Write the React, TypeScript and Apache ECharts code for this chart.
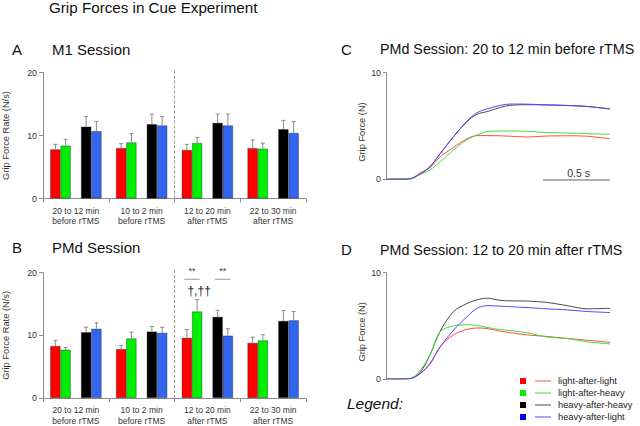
import React, { useEffect, useRef } from "react";
import * as echarts from "echarts";

const categories = [
  "20 to 12 min\nbefore rTMS",
  "10 to 2 min\nbefore rTMS",
  "12 to 20 min\nafter rTMS",
  "22 to 30 min\nafter rTMS",
];
const conditionNames = ["light-after-light", "light-after-heavy", "heavy-after-heavy", "heavy-after-light"];
const barColors = ["#ff0000", "#00ee00", "#000000", "#3366ee"];
const legendSquareColors = ["#ff0000", "#00ee00", "#000000", "#0000ee"];
const lineColors = ["#ff4a4a", "#3ade3a", "#4a4a4a", "#4a4aff"];
const slotOfCondition = [0, 1, 3, 4];

// Panel A (M1 session): grip force rate means and SEM
const m1Means = [
  [7.8, 8.0, 7.7, 8.0],
  [8.4, 8.9, 8.8, 7.9],
  [11.4, 11.8, 12.0, 11.0],
  [10.7, 11.6, 11.6, 10.4],
];
const m1Sem = [
  [0.8, 0.7, 0.9, 1.3],
  [1.0, 1.4, 0.9, 0.9],
  [1.6, 1.6, 1.4, 1.4],
  [1.55, 1.4, 1.8, 1.8],
];
// Panel B (PMd session)
const pmdMeans = [
  [8.3, 7.8, 9.6, 8.8],
  [7.7, 9.5, 13.8, 9.2],
  [10.5, 10.6, 12.95, 12.3],
  [11.05, 10.4, 9.95, 12.4],
];
const pmdSem = [
  [0.9, 0.6, 1.35, 0.9],
  [0.35, 1.0, 1.9, 0.9],
  [0.8, 0.8, 1.05, 1.65],
  [0.95, 0.9, 1.1, 1.4],
];
const rateTicks = { min: 0, max: 20, interval: 10 };
const rtmsStartIndex = 2;
// significance pairs: [category, slotA, slotB]
const sigPairs = [
  [2, 0, 1],
  [2, 3, 4],
];
const daggerMark = [[2, 1, 17.0]];

// Grip force traces (time in s, force in N)
const timeS = [0, 0.105, 0.18, 0.255, 0.33, 0.405, 0.505, 0.605, 0.68, 0.755, 0.855, 0.93, 1.055, 1.205, 1.355, 1.505, 1.675];
const cTraces = [
  [0, 0.05, 0.05, 0.6, 1.1, 2.1, 3.0, 3.8, 4.1, 4.1, 4.08, 4.04, 3.97, 4.06, 4.08, 4.04, 3.8],
  [0, 0, 0.02, 0.44, 0.9, 1.65, 2.75, 3.7, 4.15, 4.47, 4.53, 4.53, 4.5, 4.38, 4.34, 4.28, 4.22],
  [0, 0, 0.05, 0.5, 1.2, 2.4, 4.0, 5.4, 6.1, 6.35, 6.75, 6.94, 7.0, 6.97, 6.92, 6.84, 6.6],
  [0, 0, 0.05, 0.5, 1.2, 2.4, 4.0, 5.45, 6.25, 6.6, 6.94, 7.06, 7.05, 6.98, 6.93, 6.82, 6.6],
];
const dTraces = [
  [0, 0, 0.03, 0.5, 1.4, 3.05, 4.15, 4.67, 4.8, 4.75, 4.5, 4.35, 4.15, 4.0, 3.82, 3.65, 3.45],
  [0, 0, 0.03, 0.8, 2.3, 4.45, 5.0, 5.1, 5.05, 4.85, 4.65, 4.55, 4.35, 3.95, 3.8, 3.5, 3.3],
  [0, 0, 0.05, 0.6, 2.3, 4.5, 6.35, 7.1, 7.45, 7.6, 7.4, 7.35, 7.33, 7.2, 6.9, 6.6, 6.65],
  [0, 0, 0.03, 0.5, 1.5, 3.0, 4.6, 5.85, 6.65, 6.9, 6.85, 6.8, 6.72, 6.6, 6.5, 6.35, 6.25],
];
const forceTicks = { min: 0, max: 10, interval: 10 };
const scaleBar = [[1.175, 1.675, 0]];

const FONT = "'Liberation Sans', Arial, sans-serif";
const GAP = 0.22;
const NSLOTS = 5;

function slotX(api: any, cat: number, slot: number) {
  const c = api.coord([cat, 0]);
  const cw = api.size([1, 0])[0];
  const bw = (cw * (1 - GAP)) / NSLOTS;
  return { x: c[0] + (slot - 2) * bw, bw, cw };
}

function barSeries(means: number[][], sems: number[][], idx: number) {
  const list: any[] = [];
  for (let k = 0; k < 4; k++) {
    if (k === 2) {
      list.push({
        type: "bar",
        name: "gap",
        xAxisIndex: idx,
        yAxisIndex: idx,
        data: categories.map(() => 0),
        itemStyle: { color: "rgba(0,0,0,0)", borderWidth: 0 },
        barGap: "0%",
        barCategoryGap: GAP * 100 + "%",
        silent: true,
      });
    }
    list.push({
      type: "bar",
      name: conditionNames[k],
      xAxisIndex: idx,
      yAxisIndex: idx,
      data: means[k],
      itemStyle: { color: barColors[k], borderColor: "rgba(20,20,20,0.6)", borderWidth: 0.6 },
      barGap: "0%",
      barCategoryGap: GAP * 100 + "%",
    });
  }
  const errData: number[][] = [];
  for (let k = 0; k < 4; k++) {
    for (let c = 0; c < categories.length; c++) {
      errData.push([c, slotOfCondition[k], means[k][c], means[k][c] + sems[k][c]]);
    }
  }
  list.push({
    type: "custom",
    xAxisIndex: idx,
    yAxisIndex: idx,
    data: errData,
    encode: { x: 0, y: [2, 3] },
    z: 3,
    renderItem: (params: any, api: any) => {
      const cat = api.value(0);
      const slot = api.value(1);
      const { x } = slotX(api, cat, slot);
      const y1 = api.coord([cat, api.value(2)])[1];
      const y2 = api.coord([cat, api.value(3)])[1];
      return {
        type: "group",
        children: [
          { type: "line", shape: { x1: x, y1, x2: x, y2 }, style: { stroke: "#8a8a8a", lineWidth: 1 } },
          { type: "line", shape: { x1: x - 2, y1: y2, x2: x + 2, y2 }, style: { stroke: "#8a8a8a", lineWidth: 1 } },
        ],
      };
    },
  });
  list.push({
    type: "custom",
    xAxisIndex: idx,
    yAxisIndex: idx,
    data: [[rtmsStartIndex]],
    encode: { x: 0 },
    renderItem: (params: any, api: any) => {
      const cat = api.value(0);
      const { cw } = slotX(api, cat, 2);
      const x = api.coord([cat, 0])[0] - cw / 2;
      const y1 = api.coord([cat, 0])[1];
      const y2 = api.coord([cat, 20.5])[1];
      return {
        type: "line",
        shape: { x1: x, y1, x2: x, y2 },
        style: { stroke: "#999", lineWidth: 1, lineDash: [3, 2] },
      };
    },
  });
  return list;
}

function traceSeries(traces: number[][], idx: number) {
  return traces.map((vals, k) => ({
    type: "line",
    name: conditionNames[k],
    xAxisIndex: idx,
    yAxisIndex: idx,
    data: vals.map((v, i) => [timeS[i], v]),
    showSymbol: false,
    smooth: 0.3,
    lineStyle: { color: lineColors[k], width: 1 },
    itemStyle: { color: lineColors[k] },
    z: k === 2 ? 2 : 3,
  }));
}

export default function App() {
  const ref = useRef<HTMLDivElement>(null);
  useEffect(() => {
    if (!ref.current) return;
    const chart = echarts.init(ref.current, undefined, { renderer: "svg" });

    const catAxis = (gi: number) => ({
      type: "category",
      gridIndex: gi,
      data: categories,
      boundaryGap: true,
      axisLine: { lineStyle: { color: "#8c8c8c" } },
      axisTick: { show: true, length: 4, lineStyle: { color: "#8c8c8c" } },
      axisLabel: { interval: 0, fontSize: 8.5, lineHeight: 10.5, margin: 7, color: "#333", fontFamily: FONT },
    });
    const rateAxis = (gi: number) => ({
      type: "value",
      gridIndex: gi,
      ...rateTicks,
      name: "Grip Force Rate (N/s)",
      nameLocation: "middle",
      nameGap: 33,
      nameRotate: 90,
      nameTextStyle: { fontSize: 9.3, color: "#333", fontFamily: FONT },
      axisLine: { show: true, lineStyle: { color: "#8c8c8c" } },
      axisTick: { show: true, length: 4, lineStyle: { color: "#8c8c8c" } },
      axisLabel: { fontSize: 8.8, margin: 6, color: "#333", fontFamily: FONT },
      splitLine: { show: false },
    });
    const timeAxis = (gi: number) => ({
      type: "value",
      gridIndex: gi,
      min: timeS[0],
      max: timeS[timeS.length - 1],
      show: false,
    });
    const forceAxis = (gi: number) => ({
      type: "value",
      gridIndex: gi,
      ...forceTicks,
      name: "Grip Force (N)",
      nameLocation: "middle",
      nameGap: 20,
      nameRotate: 90,
      nameTextStyle: { fontSize: 9.3, color: "#333", fontFamily: FONT, padding: [0, 0, 0, -12] },
      axisLine: { show: true, lineStyle: { color: "#8c8c8c" } },
      axisTick: { show: true, length: 3, lineStyle: { color: "#8c8c8c" } },
      axisLabel: { fontSize: 8.8, margin: 5, color: "#333", fontFamily: FONT },
      splitLine: { show: false },
    });

    const headerStyle = { fontSize: 15, fill: "#111", fontFamily: FONT, verticalAlign: "middle" };
    const legendGraphics: any[] = [];
    conditionNames.forEach((n, k) => {
      const y = 381 + k * 12;
      legendGraphics.push({ type: "rect", shape: { x: 520, y: y - 3, width: 6, height: 6 }, style: { fill: legendSquareColors[k] } });
      legendGraphics.push({ type: "line", shape: { x1: 535, y1: y, x2: 551, y2: y }, style: { stroke: lineColors[k], lineWidth: 1 } });
      legendGraphics.push({ type: "text", x: 558, y, style: { text: n, fontSize: 9.3, fill: "#222", fontFamily: FONT, verticalAlign: "middle" } });
    });

    const option: any = {
      animation: false,
      grid: [
        { left: 40, top: 72.5, width: 266, height: 126 },
        { left: 40, top: 272.7, width: 266, height: 126.6 },
        { left: 386, top: 72.7, width: 224, height: 106.6 },
        { left: 386, top: 272.7, width: 224, height: 106.3 },
      ],
      xAxis: [catAxis(0), catAxis(1), timeAxis(2), timeAxis(3)],
      yAxis: [rateAxis(0), rateAxis(1), forceAxis(2), forceAxis(3)],
      series: [
        ...barSeries(m1Means, m1Sem, 0),
        ...barSeries(pmdMeans, pmdSem, 1),
        {
          type: "custom",
          xAxisIndex: 1,
          yAxisIndex: 1,
          data: sigPairs,
          encode: { x: 0 },
          renderItem: (params: any, api: any) => {
            const cat = api.value(0);
            const a = slotX(api, cat, api.value(1));
            const b = slotX(api, cat, api.value(2));
            const mid = (a.x + b.x) / 2;
            const half = a.bw * 0.75;
            const yl = api.coord([cat, 18.95])[1];
            const yt = api.coord([cat, 20.2])[1];
            return {
              type: "group",
              children: [
                { type: "line", shape: { x1: mid - half, y1: yl, x2: mid + half, y2: yl }, style: { stroke: "#999", lineWidth: 1 } },
                { type: "text", x: mid, y: yt, style: { text: "**", fontSize: 9, fill: "#333", fontFamily: FONT, align: "center", verticalAlign: "middle" } },
              ],
            };
          },
        },
        {
          type: "custom",
          xAxisIndex: 1,
          yAxisIndex: 1,
          data: daggerMark,
          encode: { x: 0, y: 2 },
          renderItem: (params: any, api: any) => {
            const cat = api.value(0);
            const s = slotX(api, cat, api.value(1));
            const y = api.coord([cat, api.value(2)])[1];
            return { type: "text", x: s.x + 2, y, style: { text: "†,††", fontSize: 12, fill: "#222", fontFamily: FONT, align: "center", verticalAlign: "middle" } };
          },
        },
        ...traceSeries(cTraces, 2),
        ...traceSeries(dTraces, 3),
        {
          type: "custom",
          xAxisIndex: 2,
          yAxisIndex: 2,
          data: scaleBar,
          encode: { x: [0, 1], y: 2 },
          renderItem: (params: any, api: any) => {
            const p1 = api.coord([api.value(0), api.value(2)]);
            const p2 = api.coord([api.value(1), api.value(2)]);
            const y = p1[1] + 0.8;
            return {
              type: "group",
              children: [
                { type: "line", shape: { x1: p1[0], y1: y, x2: p2[0], y2: y }, style: { stroke: "#b0b0b0", lineWidth: 2 } },
                { type: "text", x: (p1[0] + p2[0]) / 2 + 2, y: y - 7, style: { text: "0.5 s", fontSize: 10.5, fill: "#333", fontFamily: FONT, align: "center", verticalAlign: "middle" } },
              ],
            };
          },
        },
      ],
      graphic: [
        { type: "text", x: 49, y: 7.5, style: { ...headerStyle, text: "Grip Forces in Cue Experiment", fontSize: 15.2 } },
        { type: "text", x: 12, y: 49, style: { ...headerStyle, text: "A" } },
        { type: "text", x: 52, y: 49, style: { ...headerStyle, text: "M1 Session" } },
        { type: "text", x: 12, y: 247.5, style: { ...headerStyle, text: "B" } },
        { type: "text", x: 52, y: 247.5, style: { ...headerStyle, text: "PMd Session" } },
        { type: "text", x: 341, y: 49, style: { ...headerStyle, text: "C" } },
        { type: "text", x: 380, y: 49, style: { ...headerStyle, text: "PMd Session: 20 to 12 min before rTMS", fontSize: 14.3 } },
        { type: "text", x: 341, y: 249.5, style: { ...headerStyle, text: "D" } },
        { type: "text", x: 380, y: 249.5, style: { ...headerStyle, text: "PMd Session: 12 to 20 min after rTMS", fontSize: 14.3 } },
        { type: "text", x: 347, y: 403.5, style: { ...headerStyle, text: "Legend:", fontStyle: "italic", fontSize: 15.5 } },
        ...legendGraphics,
      ],
    };
    chart.setOption(option);
    return () => chart.dispose();
  }, []);
  return <div ref={ref} style={{ position: "absolute", left: 0, top: 0, width: 640, height: 426, background: "#fff" }} />;
}
